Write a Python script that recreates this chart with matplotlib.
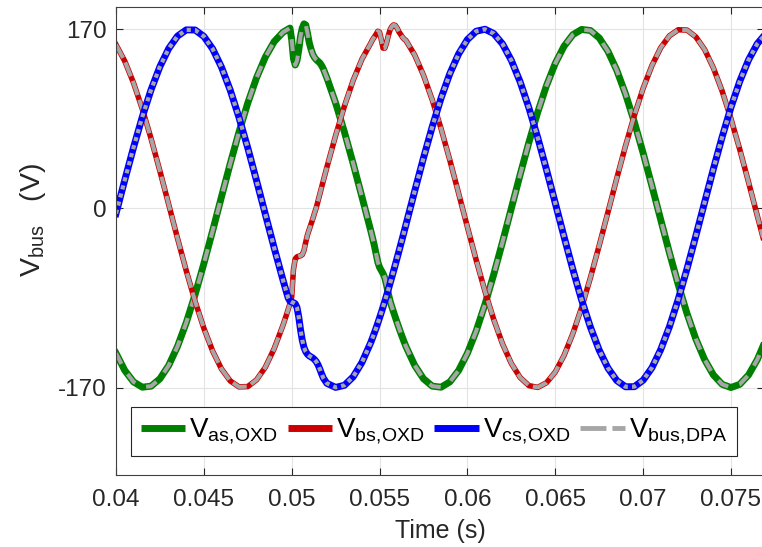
import matplotlib
matplotlib.use("Agg")
import matplotlib.pyplot as plt
from matplotlib.lines import Line2D

# time samples (s): 0.5 ms steps, 0.1 ms steps around the two transients
t = [
    0.0400, 0.0405, 0.0410, 0.0415, 0.0420, 0.0425, 0.0430, 0.0435, 0.0440, 0.0445,
    0.0450, 0.0455, 0.0460, 0.0465, 0.0470, 0.0475, 0.0480, 0.0485, 0.0490, 0.0495,
    0.0497, 0.0498, 0.0499, 0.0500, 0.0501, 0.0502, 0.0503, 0.0504, 0.0505, 0.0506,
    0.0507, 0.0508, 0.0509, 0.0510, 0.0511, 0.0512, 0.0513, 0.0514, 0.0515, 0.0516,
    0.0517, 0.0518,
    0.0520, 0.0525, 0.0530, 0.0535, 0.0540, 0.0545,
    0.0546, 0.0547, 0.0548, 0.0549, 0.0550, 0.0551, 0.0552, 0.0553, 0.0554, 0.0555,
    0.0556, 0.0557, 0.0558, 0.0559, 0.0560, 0.0561, 0.0562, 0.0563, 0.0564,
    0.0565, 0.0570, 0.0575, 0.0580, 0.0585, 0.0590, 0.0595, 0.0600, 0.0605, 0.0610,
    0.0615, 0.0620, 0.0625, 0.0630, 0.0635, 0.0640, 0.0645, 0.0650, 0.0655, 0.0660,
    0.0665, 0.0670, 0.0675, 0.0680, 0.0685, 0.0690, 0.0695, 0.0700, 0.0705, 0.0710,
    0.0715, 0.0720, 0.0725, 0.0730, 0.0735, 0.0740, 0.0745, 0.0750, 0.0755, 0.0760,
    0.0765, 0.0770,
]

v_as = [
    -137.5, -153.8, -164.7, -169.7, -168.7, -161.7, -149.0, -131.0, -108.4, -81.9,
    -52.5, -21.3, 10.7, 42.3, 72.4, 99.9, 123.9, 143.5, 158.1, 167.0,
    169.0, 170.0, 171.0, 160.0, 142.0, 136.0, 140.0, 150.0, 163.0, 171.0,
    175.0, 174.0, 166.0, 157.0, 151.0, 146.0, 143.0, 141.0, 139.5, 138.0,
    135.5, 132.3,
    123.9, 99.9, 72.4, 42.3, 10.7, -21.3,
    -28.0, -35.0, -43.0, -51.0, -56.0, -59.0, -62.0, -66.0, -73.0, -81.0,
    -88.0, -93.5, -98.5, -103.5, -108.4, -113.2, -117.9, -122.4, -126.8,
    -131.0, -149.0, -161.7, -168.7, -169.7, -164.7, -153.8, -137.5, -116.4, -91.1,
    -62.6, -31.9, 0.0, 31.9, 62.6, 91.1, 116.4, 137.5, 153.8, 164.7,
    169.7, 168.7, 161.7, 149.0, 131.0, 108.4, 81.9, 52.5, 21.3, -10.7,
    -42.3, -72.4, -99.9, -123.9, -143.5, -158.1, -167.0, -170.0, -167.0, -158.1,
    -143.5, -123.9,
]

v_bs = [
    155.3, 139.6, 118.9, 94.1, 65.9, 35.3, 3.6, -28.4, -59.3, -88.1,
    -113.8, -135.4, -152.3, -163.7, -169.4, -169.1, -162.7, -150.7, -133.2, -111.1,
    -101.1, -95.8, -90.5, -84.0, -58.0, -48.0, -46.0, -45.5, -45.0, -44.0,
    -40.0, -32.0, -25.0, -20.0, -15.0, -10.0, -4.5, 0.7, 7.1, 13.5,
    19.9, 26.2,
    38.8, 69.1, 97.0, 121.5, 141.6, 156.7,
    160.0, 162.5, 165.0, 168.0, 167.0, 160.0, 152.0, 152.0, 157.0, 164.0,
    169.5, 172.5, 174.0, 173.5, 171.0, 167.5, 165.0, 162.5, 160.5,
    159.3, 145.4, 126.3, 102.8, 75.6, 45.7, 14.2, -17.8, -49.1, -78.8,
    -105.6, -128.7, -147.2, -160.5, -168.2, -169.9, -165.5, -155.3, -139.6, -118.9,
    -94.1, -65.9, -35.3, -3.6, 28.4, 59.3, 88.1, 113.8, 135.4, 152.3,
    163.7, 169.4, 169.1, 162.7, 150.7, 133.2, 111.1, 85.0, 55.9, 24.8,
    -7.1, -38.8,
]

v_cs = [
    -5.0, 26.9, 57.9, 86.9, 112.7, 134.5, 151.6, 163.4, 169.3, 169.2,
    163.1, 151.3, 134.1, 112.2, 86.2, 57.3, 26.2, -5.7, -37.4, -67.8,
    -79.4, -85.0, -88.0, -89.0, -89.5, -90.5, -94.0, -103.0, -115.0, -125.0,
    -132.0, -136.0, -138.5, -140.0, -141.0, -142.0, -143.5, -145.5, -148.5, -152.5,
    -157.0, -161.0,
    -166.0, -169.9, -167.9, -159.8, -146.1, -127.3,
    -122.9, -118.4, -113.8, -108.9, -103.9, -98.8, -93.5, -88.1, -82.5, -76.9,
    -71.1, -65.2, -59.3, -53.2, -47.1, -40.9, -34.6, -28.4, -22.0,
    -15.6, 16.4, 47.8, 77.5, 104.5, 127.8, 146.5, 160.1, 168.0, 169.9,
    165.8, 155.9, 140.4, 120.0, 95.3, 67.2, 36.7, 5.0, -26.9, -57.9,
    -86.9, -112.7, -134.5, -151.6, -163.4, -169.3, -169.2, -163.1, -151.3, -134.1,
    -112.2, -86.2, -57.3, -26.2, 5.7, 37.4, 67.8, 95.8, 120.5, 140.8,
    156.2, 166.0,
]

xticks = [0.04, 0.045, 0.05, 0.055, 0.06, 0.065, 0.07, 0.075]
xtick_labels = ["0.04", "0.045", "0.05", "0.055", "0.06", "0.065", "0.07", "0.075"]
yticks = [-170, 0, 170]

labels = [r"$V_{as,\!OXD}$", r"$V_{bs,\!OXD}$", r"$V_{cs,\!OXD}$", r"$V_{bus,\!DPA}$"]

GREEN = "#008000"
RED = "#cc0000"
BLUE = "#0000ff"
GRAY = "#a6a6a6"

plt.rcParams["font.family"] = ["Liberation Sans", "DejaVu Sans"]
plt.rcParams["mathtext.default"] = "regular"
plt.rcParams["lines.scale_dashes"] = False
plt.rcParams["axes.unicode_minus"] = False

fig = plt.figure(figsize=(7.62, 5.47), dpi=100)
ax = fig.add_axes([116 / 762, 1 - 475 / 547, 648 / 762, 468 / 547])

# each OXD phase with the DPA result drawn on top of it
ax.plot(t, v_as, color=GREEN, lw=5.0)
ax.plot(t, v_as, color=GRAY, lw=2.9, dashes=(8.6, 8.6))
ax.plot(t, v_bs, color=RED, lw=4.0)
ax.plot(t, v_bs, color=GRAY, lw=2.9, dashes=(10.8, 3.6))
ax.plot(t, v_cs, color=BLUE, lw=5.0)
ax.plot(t, v_cs, color=GRAY, lw=3.0, dashes=(3.0, 3.0))

ax.set_xlim(0.04, 0.07688)
ax.set_ylim(-253, 191)
ax.set_xticks(xticks)
ax.set_xticklabels(xtick_labels)
ax.set_yticks(yticks)
ax.tick_params(direction="in", top=True, right=True, length=5, width=0.8,
               labelsize=17.5, colors="#262626")
ax.tick_params(axis="x", pad=10)
ax.tick_params(axis="y", pad=7)
ax.grid(True, color="#e3e3e3", lw=0.8)
ax.set_axisbelow(True)
for s in ax.spines.values():
    s.set_color("#404040")
    s.set_linewidth(0.8)

ax.set_xlabel("Time (s)", fontsize=18, color="#262626", labelpad=6)
ax.set_ylabel(r"$V_{bus}$   (V)", fontsize=20.5, color="#262626")
ax.yaxis.set_label_coords(-0.105, 0.545)

handles = [
    Line2D([], [], color=GREEN, lw=5.0, solid_capstyle="butt"),
    Line2D([], [], color=RED, lw=5.0, solid_capstyle="butt"),
    Line2D([], [], color=BLUE, lw=5.0, solid_capstyle="butt"),
    Line2D([], [], color=GRAY, lw=3.5, dashes=(18.7, 4.3), dash_capstyle="butt"),
]
leg = ax.legend(handles, labels, loc="lower left", ncol=4,
                bbox_to_anchor=(131 / 762, 1 - 456 / 547), bbox_transform=fig.transFigure,
                fontsize=20, frameon=True, fancybox=False, framealpha=1,
                edgecolor="#262626", borderaxespad=0, borderpad=0.35,
                handlelength=1.6, handletextpad=0.15, columnspacing=0.35)
leg.get_frame().set_linewidth(0.8)

fig.savefig("out.png", dpi=100)
